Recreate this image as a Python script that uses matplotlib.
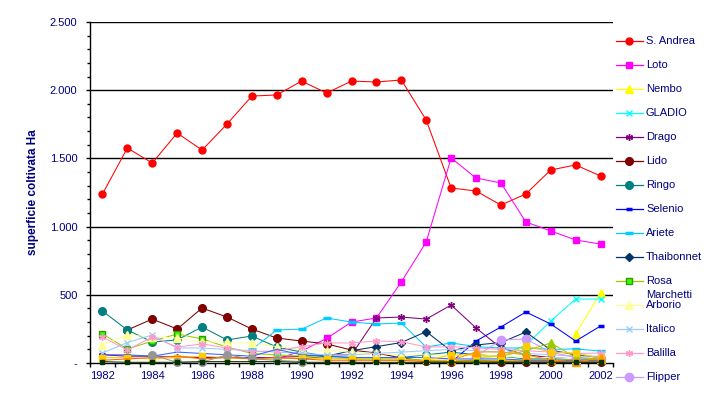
import numpy as np
import matplotlib
matplotlib.use('Agg')
import matplotlib.pyplot as plt
from matplotlib.lines import Line2D

plt.rcParams['font.family'] = ['Liberation Sans', 'DejaVu Sans']

nan = np.nan
years = list(range(1982, 2003))

# values (Ha)
s_andrea = [1239, 1576, 1466, 1686, 1561, 1752, 1957, 1965, 2067, 1979, 2067,
            2060, 2075, 1781, 1283, 1261, 1158, 1239, 1415, 1452, 1371]
loto = [nan] * 7 + [30, 88, 180, 300, 330, 594, 887, 1503, 1356, 1320, 1034, 968, 902, 872]
nembo = [nan] * 19 + [213, 513]
gladio = [nan] * 16 + [60, 130, 308, 469, 469]
drago = [60, 50, 50, 45, 40, 40, 40, 40, 50, 60, 60, 330, 337, 322, 425, 257,
         110, 60, 40, 30, 20]
lido = [nan, 242, 322, 249, 403, 337, 249, 183, 161, 140, 95, 73, 37, 15, 10,
        22, 10, 5, 5, 5, 5]
ringo = [381, 242, 154, 169, 264, 169, 198, 117, 80, 50, 40, 40, 40, 60, 80,
         60, 50, 30, 30, 30, 30]
selenio = [nan] * 14 + [5, 161, 264, 374, 286, 161, 271]
ariete = [nan] * 6 + [100, 242, 249, 330, 300, 286, 293, 117, 147, 120, 110,
                      110, 100, 103, 88]
thaibonnet = [nan] * 8 + [30, 50, 90, 120, 150, 230, 88, 132, 150, 227, 95, 60, 40]
rosa = [213, 103, 160, 213, 176, 117, 70, 59, 50, 40, 30, 30, 30, 20, 20, 20,
        20, 20, 20, 20, 20]
marchetti = [132, 205, 191, 183, 154, 154, 147, 120, 100, 90, 80, 70, 60, 60,
             50, 60, 50, 40, 40, 30, 30]
italico = [73, 150, 205, 110, 110, 100, 90, 80, 70, 60, 60, 70, 80, 90, 100,
           90, 80, 70, 60, 50, 50]
balilla = [191, 95, 191, 117, 140, 110, 81, 90, 120, 147, 147, 161, 157, 117,
           120, 110, 100, 90, 80, 70, 73]
flipper = [nan] * 15 + [50, 169, 176, 80, 40, 30]

# series further down the list (cut out of the legend)
s_royal = [60, 60, 50, 80, 70, 60, 50, 100, 60, 50, 40, 40, 40, 40, 30, 30,
           30, 20, 20, 20, 20]
s_olive = [nan] * 15 + [40, 50, 90, 147, 40, 30]
s_gold = [40, 40, 30, 40, 50, 40, 30, 30, 40, 30, 30, 20, 20, 20, 59, 60, 44,
          125, 81, 73, 37]
s_orange = [nan] * 14 + [20, 81, 81, 60, 22, 5, 40]
s_red_or = [20, 30, 40, 50, 30, 40, 30, 40, 30, 20, 20, 20, 20, 10, 10, 10,
            10, 10, 10, 10, 10]
s_gray = [nan, nan, 59, 5, 7, 59, 30, 20, 10] + [nan] * 12
s_dkgreen = [10, 5, 5, 5, 10, 10, 10, 10, 5, 5, 5, 5, 5, 5, 5, 5, 5, 5, 5, 5, 5]

ast = (6, 2, 0)
series = [
    # label, data, line colour, marker, face, edge, size
    ('S. Andrea', s_andrea, '#FF0000', 'o', '#FF0000', '#FF0000', 5),
    ('Loto', loto, '#FF00FF', 's', '#FF00FF', '#FF00FF', 5),
    ('Nembo', nembo, '#FFFF00', '^', '#FFFF00', '#FFFF00', 6),
    ('GLADIO', gladio, '#00FFFF', 'x', '#00FFFF', '#00FFFF', 5),
    ('Drago', drago, '#800080', ast, '#800080', '#800080', 5),
    ('Lido', lido, '#800000', 'o', '#800000', '#800000', 5.5),
    ('Ringo', ringo, '#008080', 'o', '#008080', '#008080', 5.5),
    ('Selenio', selenio, '#0000FF', '_', '#0000FF', '#0000FF', 4),
    ('Ariete', ariete, '#00CCFF', '_', '#00CCFF', '#00CCFF', 6),
    ('Thaibonnet', thaibonnet, '#003366', 'D', '#003366', '#003366', 4.5),
    ('Rosa', rosa, '#99CC00', 's', '#33FF00', '#339900', 5),
    ('Marchetti\nArborio', marchetti, '#FFFF99', '^', '#FFFF99', '#FFFF99', 6),
    ('Italico', italico, '#99CCFF', 'x', '#99CCFF', '#99CCFF', 5),
    ('Balilla', balilla, '#FF99CC', ast, '#FF99CC', '#FF99CC', 5),
    ('Flipper', flipper, '#CC99FF', 'o', '#CC99FF', '#CC99FF', 6),
    (None, s_royal, '#3366FF', '', None, None, 0),
    (None, s_olive, '#99CC00', '^', '#99CC00', '#99CC00', 6),
    (None, s_gold, '#FFCC00', 's', '#FFCC00', '#FFCC00', 5),
    (None, s_orange, '#FF9900', '^', '#FF9900', '#FF9900', 6),
    (None, s_red_or, '#FF6600', '', None, None, 0),
    (None, s_gray, '#969696', 'o', '#969696', '#969696', 5.5),
    (None, s_dkgreen, '#003300', 's', '#003300', '#003300', 3.5),
]

navy = '#000080'
fig = plt.figure(figsize=(7.11, 3.99), dpi=100)
ax = fig.add_axes([90 / 711, 1 - 363 / 399, 523 / 711, 341 / 399])

x = np.arange(len(years))
for i, (lab, data, col, mk, fc, ec, ms) in enumerate(series):
    mew = 1.0
    if mk == '_':
        mew = 2.5
    ax.plot(x, data, color=col, linewidth=0.75, marker=mk if mk else None,
            markerfacecolor=fc, markeredgecolor=ec, markersize=ms,
            markeredgewidth=mew, zorder=3 + i * 0.01, clip_on=False)

ax.set_xlim(-0.5, len(years) - 0.5)
ax.set_ylim(0, 2500)

ax.set_yticks(range(0, 2501, 500))
ax.set_yticklabels(['-', '500', '1.000', '1.500', '2.000', '2.500'])
ax.set_yticks(range(0, 2501, 100), minor=True)
ax.tick_params(axis='y', which='major', length=3, width=1, colors='black',
               labelcolor=navy, labelsize=8, pad=6)
ax.tick_params(axis='y', which='minor', length=2.2, width=1, colors='black')

ax.set_xticks(x[::2])
ax.set_xticklabels([str(y) for y in years[::2]])
ax.set_xticks(np.arange(-0.5, len(years), 1), minor=True)
ax.tick_params(axis='x', which='major', length=0, labelcolor=navy,
               labelsize=8, pad=6)
ax.tick_params(axis='x', which='minor', length=3, width=1, colors='black')

for v in range(500, 2501, 500):
    ax.axhline(v, color='black', linewidth=1, zorder=1)

ax.spines['top'].set_visible(False)
ax.spines['right'].set_visible(False)
ax.spines['left'].set_linewidth(1)
ax.spines['bottom'].set_linewidth(1)

ax.set_ylabel('superficie coltivata Ha', color=navy, fontsize=8.5,
              fontweight='bold')
ax.yaxis.set_label_coords((39 - 90) / 523, 0.5)

# legend drawn by hand, rows 24 px apart
W, H = 711.0, 399.0
rows = [41, 65, 89, 113, 137, 161, 185, 209, 233, 257, 281, 305, 329, 353, 377]
for (lab, data, col, mk, fc, ec, ms), yp in zip(series[:15], rows):
    fy = 1 - yp / H
    fig.add_artist(Line2D([616 / W, 643 / W], [fy, fy], color=col,
                          linewidth=0.9, transform=fig.transFigure))
    fig.add_artist(Line2D([629 / W], [fy], marker=mk, markerfacecolor=fc,
                          markeredgecolor=ec, markersize=ms,
                          markeredgewidth=2.5 if mk == '_' else 1.0,
                          linestyle='none', transform=fig.transFigure))
    if '\n' in lab:
        a, b = lab.split('\n')
        fig.text(646 / W, 1 - (yp - 10) / H, a, color=navy, fontsize=8, va='center')
        fig.text(646 / W, fy, b, color=navy, fontsize=8, va='center')
    else:
        fig.text(646 / W, fy, lab, color=navy, fontsize=8, va='center')

fig.savefig('out.png', dpi=100)
